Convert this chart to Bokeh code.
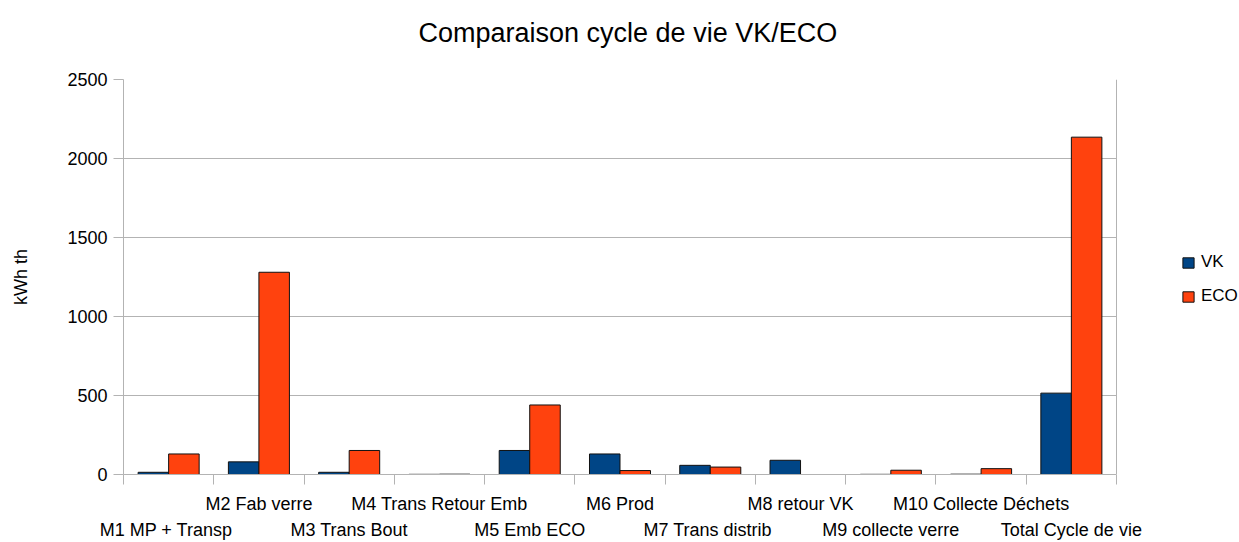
from bokeh.plotting import figure
from bokeh.models import (Range1d, LinearAxis, FixedTicker, Legend, LegendItem,
                          ColumnDataSource, BoxAnnotation, Span, Title)
from bokeh.embed import file_html
from bokeh.resources import INLINE

# ---- data ----
categories = ["M1  MP + Transp", "M2 Fab verre", "M3 Trans Bout", "M4 Trans Retour Emb",
              "M5 Emb ECO", "M6 Prod", "M7 Trans  distrib", "M8 retour VK",
              "M9 collecte verre", "M10 Collecte Déchets", "Total Cycle de vie"]
vk = [14, 80, 14, 1, 152, 130, 58, 90, 1, 2, 515]
eco = [130, 1280, 152, 2, 440, 25, 47, float("nan"), 27, 37, 2135]
y_ticks = [0, 500, 1000, 1500, 2000, 2500]
series_names = ["VK", "ECO"]
series_colors = ["#004586", "#ff420e"]
title_text = "Comparaison cycle de vie VK/ECO"

FONT = "Liberation Sans"
GREY = "#b3b3b3"

W, H = 1239, 542
LEFT = 123          # frame left edge (px)
PLOT_PX = 993       # width of the category area (px)

n = len(categories)
centers = [i + 0.5 for i in range(n)]
bar_w = 0.338

src = ColumnDataSource(dict(
    x_vk=[c - bar_w / 2 for c in centers],
    x_eco=[c + bar_w / 2 for c in centers],
    vk=vk, eco=eco))

x_end = n * (W - LEFT) / PLOT_PX   # frame extends to the right edge for the legend

p = figure(width=W, height=H, output_backend="svg", toolbar_location=None,
           title=None,
           x_range=Range1d(0, x_end), y_range=Range1d(0, 2500),
           x_axis_location=None,
           min_border_left=LEFT, min_border_right=0,
           min_border_top=79, min_border_bottom=60)

# invisible spacer between title and plot area
spacer = LinearAxis(ticker=FixedTicker(ticks=[0.5]),
                    major_label_overrides={0.5: ""})
spacer.major_tick_out = 27
spacer.major_tick_in = 0
spacer.minor_tick_out = 0
spacer.minor_tick_in = 0
spacer.major_label_standoff = 0
spacer.major_label_text_font_size = "1px"
spacer.axis_line_color = None
spacer.major_tick_line_color = None
spacer.minor_tick_line_color = None
p.add_layout(spacer, "above")

title = Title(text=title_text, text_font=FONT, text_font_size="27px",
              text_font_style="normal", text_color="black",
              align="left", offset=295, standoff=10)
p.add_layout(title, "above")

p.outline_line_color = None
p.background_fill_color = "white"
p.border_fill_color = "white"

# y axis
ya = p.yaxis[0]
ya.ticker = FixedTicker(ticks=y_ticks)
ya.major_label_text_font = FONT
ya.major_label_text_font_size = "18px"
ya.major_label_text_color = "black"
ya.major_tick_out = 10
ya.major_tick_in = 0
ya.minor_tick_out = 0
ya.minor_tick_in = 0
ya.axis_line_color = GREY
ya.major_tick_line_color = GREY
ya.major_label_standoff = 6
ya.axis_label = "kWh th"
ya.axis_label_text_font = FONT
ya.axis_label_text_font_size = "18px"
ya.axis_label_text_font_style = "normal"
ya.axis_label_text_color = "black"
ya.axis_label_standoff = 33
p.ygrid.ticker = FixedTicker(ticks=y_ticks)
p.ygrid.grid_line_color = GREY
p.xgrid.ticker = FixedTicker(ticks=[])
p.xgrid.grid_line_color = None

# bars
r_vk = p.vbar(x="x_vk", top="vk", bottom=0, width=bar_w, source=src,
              fill_color=series_colors[0], line_color="#111111", line_width=1)
r_eco = p.vbar(x="x_eco", top="eco", bottom=0, width=bar_w, source=src,
               fill_color=series_colors[1], line_color="#111111", line_width=1)

# blank out the legend area to the right of the category area, then close the box
p.add_layout(BoxAnnotation(left=n, fill_color="white", fill_alpha=1,
                           line_color=None))
p.add_layout(Span(location=n, dimension="height", line_color=GREY, line_width=1))

# staggered category axes
row1 = {centers[i]: categories[i] for i in range(1, n, 2)}
row2 = {centers[i]: categories[i] for i in range(0, n, 2)}

ax1 = LinearAxis(ticker=FixedTicker(ticks=list(row1.keys()),
                                    minor_ticks=[float(i) for i in range(n + 1)]),
                 major_label_overrides=row1, bounds=(0, n))
ax1.major_tick_out = 0
ax1.major_tick_in = 0
ax1.minor_tick_out = 10
ax1.minor_tick_in = 0
ax1.minor_tick_line_color = GREY
ax1.axis_line_color = GREY
ax1.major_label_standoff = 9
ax1.major_label_text_font = FONT
ax1.major_label_text_font_size = "18px"
ax1.major_label_text_color = "black"
p.add_layout(ax1, "below")

ax2 = LinearAxis(ticker=FixedTicker(ticks=list(row2.keys())),
                 major_label_overrides=row2)
ax2.major_tick_out = 0
ax2.major_tick_in = 0
ax2.minor_tick_out = 0
ax2.minor_tick_in = 0
ax2.major_tick_line_color = None
ax2.minor_tick_line_color = None
ax2.axis_line_color = None
ax2.major_label_standoff = 3
ax2.major_label_text_font = FONT
ax2.major_label_text_font_size = "18px"
ax2.major_label_text_color = "black"
p.add_layout(ax2, "below")

# legend
legend = Legend(items=[LegendItem(label=series_names[0], renderers=[r_vk]),
                       LegendItem(label=series_names[1], renderers=[r_eco])],
                location=(1181 - LEFT, 168), orientation="vertical",
                glyph_width=14, glyph_height=13, label_standoff=6,
                label_text_font=FONT, label_text_font_size="17px",
                label_text_color="black",
                padding=0, spacing=14, margin=0,
                border_line_color=None, background_fill_alpha=0)
p.add_layout(legend)

open("out.html", "w").write(file_html(p, INLINE))
